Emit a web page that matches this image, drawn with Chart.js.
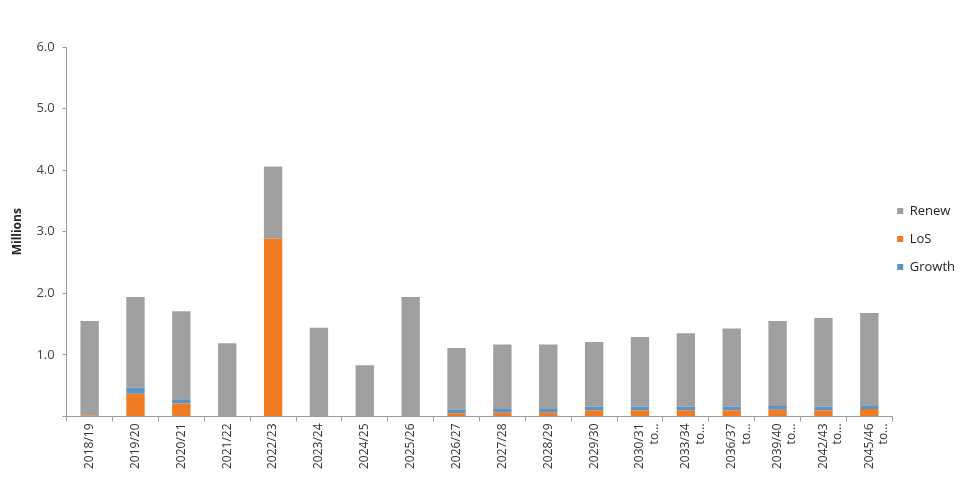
<!DOCTYPE html>
<html>
<head>
<meta charset="utf-8">
<script src="https://cdn.jsdelivr.net/npm/chart.js@4"></script>
<style>
  html, body { margin: 0; padding: 0; background: #fff; overflow: hidden; }
  #wrap { width: 975px; height: 487px; position: relative; }
</style>
</head>
<body>
<div id="wrap"><canvas id="chart"></canvas></div>
<script>
// Categories (years), multi-line for the grouped periods
const years = [
  "2018/19", "2019/20", "2020/21", "2021/22", "2022/23", "2023/24",
  "2024/25", "2025/26", "2026/27", "2027/28", "2028/29", "2029/30",
  ["2030/31", "to..."], ["2033/34", "to..."], ["2036/37", "to..."],
  ["2039/40", "to..."], ["2042/43", "to..."], ["2045/46", "to..."]
];

// Values in millions, stacked bottom-up: LoS, Growth, Renew
const losValues    = [0.02, 0.37, 0.21, 0.00, 2.89, 0.00, 0.00, 0.00, 0.05, 0.06, 0.06, 0.10, 0.10, 0.10, 0.10, 0.11, 0.10, 0.12];
const growthValues = [0.00, 0.10, 0.07, 0.00, 0.00, 0.00, 0.00, 0.00, 0.06, 0.06, 0.06, 0.06, 0.06, 0.06, 0.06, 0.06, 0.06, 0.06];
const renewValues  = [1.53, 1.47, 1.43, 1.19, 1.17, 1.44, 0.83, 1.94, 1.00, 1.05, 1.05, 1.05, 1.13, 1.19, 1.27, 1.38, 1.44, 1.50];

const yTicks = { min: 0, max: 6, step: 1 };
const legendOrder = ["Renew", "LoS", "Growth"];

const axisGray = "#9a9a9a";
const textGray = "#444";

// legend sits a little above the vertical centre, hard against the plot
const legendNudge = {
  id: "legendNudge",
  afterLayout(chart) {
    const lg = chart.legend;
    lg.top -= 20; lg.bottom -= 20;
    lg.left -= 10; lg.right -= 10;
  }
};

new Chart(document.getElementById("chart"), {
  type: "bar",
  data: {
    labels: years,
    datasets: [
      { label: "LoS", data: losValues, backgroundColor: "#f07b22" },
      { label: "Growth", data: growthValues, backgroundColor: "#5b93c4" },
      { label: "Renew", data: renewValues, backgroundColor: "#9f9f9f" }
    ]
  },
  plugins: [legendNudge],
  options: {
    responsive: true,
    maintainAspectRatio: false,
    animation: false,
    layout: { padding: { top: 47, left: 10, bottom: 16, right: 0 } },
    datasets: { bar: { categoryPercentage: 1.0, barPercentage: 0.4 } },
    plugins: {
      tooltip: { enabled: false },
      legend: {
        position: "right",
        labels: {
          boxWidth: 6,
          boxHeight: 6,
          padding: 15,
          color: "#222",
          font: { family: "Open Sans", size: 13 },
          sort: (a, b) => legendOrder.indexOf(a.text) - legendOrder.indexOf(b.text)
        }
      }
    },
    scales: {
      x: {
        stacked: true,
        border: { color: axisGray, width: 1 },
        grid: { drawOnChartArea: false, drawTicks: true, tickLength: 5, color: axisGray },
        ticks: {
          minRotation: 90,
          maxRotation: 90,
          autoSkip: false,
          padding: 2,
          color: "#333",
          font: { family: "Open Sans", size: 12 }
        }
      },
      y: {
        stacked: true,
        min: yTicks.min,
        max: yTicks.max,
        border: { color: axisGray, width: 1 },
        grid: { drawOnChartArea: false, drawTicks: true, tickLength: 4, color: axisGray },
        ticks: {
          stepSize: yTicks.step,
          padding: 8,
          color: textGray,
          font: { family: "Open Sans", size: 13 },
          callback: v => (v === 0 ? "" : v.toFixed(1))
        },
        title: {
          display: true,
          text: "Millions",
          color: "#222",
          padding: { top: 0, bottom: 4 },
          font: { family: "Open Sans", size: 12, weight: "bold" }
        }
      }
    }
  }
});
</script>
</body>
</html>
